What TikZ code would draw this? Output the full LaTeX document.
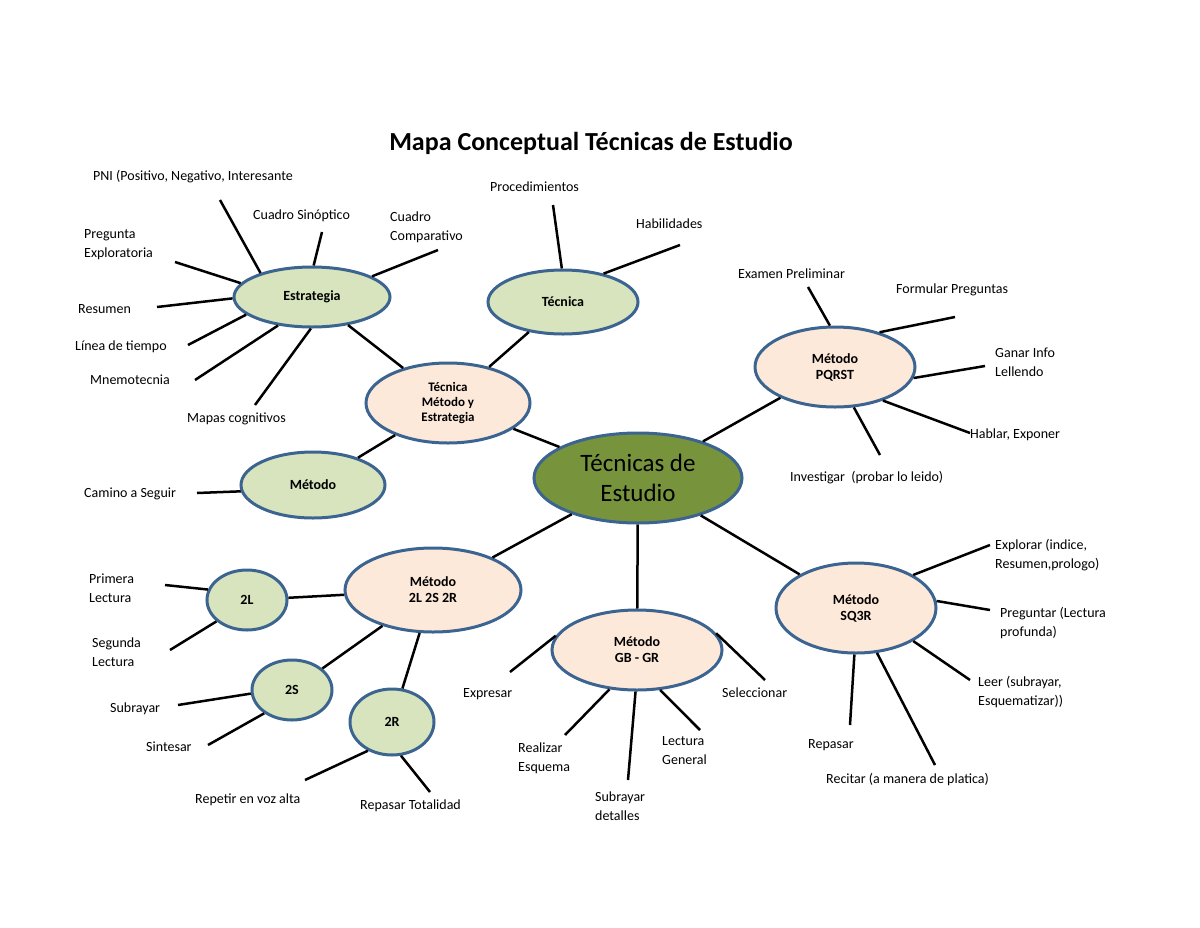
\documentclass[tikz,border=0pt]{standalone}
\usepackage{fontspec}
\setmainfont{Carlito}
\usetikzlibrary{shapes.geometric}
\definecolor{bord}{HTML}{3C6491}
\definecolor{gr}{HTML}{D7E4BD}
\definecolor{pe}{HTML}{FDE9D9}
\definecolor{dk}{HTML}{77933C}
\begin{document}
\begin{tikzpicture}[x=1pt,y=-1pt,
 el/.style={ellipse,draw=bord,line width=3pt,inner sep=0pt,align=center,font=\fontsize{14}{16}\selectfont\bfseries},
 g/.style={el,fill=gr}, p/.style={el,fill=pe},
 lab/.style={anchor=west,align=left,inner sep=0pt,font=\fontsize{14}{19}\selectfont},
 ln/.style={line width=2.5pt}]
\useasboundingbox (0,0) rectangle (1200,927);
\node[font=\fontsize{26}{30}\selectfont\bfseries] (title) at (591,143) {Mapa Conceptual Técnicas de Estudio};
\node[el,fill=dk,minimum width=208pt,minimum height=90pt,font=\fontsize{25}{30}\selectfont] (c) at (638,478) {Técnicas de\\Estudio};
\node[g,minimum width=156pt,minimum height=60pt] (est) at (312,297) {Estrategia};
\node[g,minimum width=150pt,minimum height=64pt] (tec) at (563,302) {Técnica};
\node[p,minimum width=164pt,minimum height=80pt,font=\fontsize{13}{15}\selectfont\bfseries] (tme) at (448,403) {Técnica\\Método y\\Estrategia};
\node[g,minimum width=144pt,minimum height=66pt] (met) at (313,485) {Método};
\node[p,minimum width=160pt,minimum height=80pt] (pq) at (835,367) {Método\\PQRST};
\node[p,minimum width=176pt,minimum height=84pt] (m2) at (433,590) {Método\\2L 2S 2R};
\node[g,minimum width=80pt,minimum height=60pt] (n2l) at (247,600) {2L};
\node[g,minimum width=80pt,minimum height=60pt] (n2s) at (292,690) {2S};
\node[g,minimum width=84pt,minimum height=66pt] (n2r) at (392,722) {2R};
\node[p,minimum width=170pt,minimum height=80pt] (gb) at (637,650) {Método\\GB - GR};
\node[p,minimum width=160pt,minimum height=90pt] (sq) at (856,608) {Método\\SQ3R};
% labels
\node[lab] (a1) at (93,177) {PNI (Positivo, Negativo, Interesante};
\node[lab] (a2) at (253,216) {Cuadro Sinóptico};
\node[lab] (a3) at (390,227) {Cuadro\\Comparativo};
\node[lab] (a4) at (84,245) {Pregunta\\Exploratoria};
\node[lab] (a5) at (78,309) {Resumen};
\node[lab] (a6) at (75,347) {Línea de tiempo};
\node[lab] (a7) at (90,380) {Mnemotecnia};
\node[lab] (a8) at (187,419) {Mapas cognitivos};
\node[lab] (b1) at (490,187) {Procedimientos};
\node[lab] (b2) at (636,224) {Habilidades};
\node[lab] (d1) at (738,274) {Examen Preliminar};
\node[lab] (d2) at (896,290) {Formular Preguntas};
\node[lab] (d3) at (995,362) {Ganar Info\\Lellendo};
\node[lab] (d4) at (970,435) {Hablar, Exponer};
\node[lab] (d5) at (790,478) {Investigar\ \ (probar lo leido)};
\node[lab] (e1) at (84,494) {Camino a Seguir};
\node[lab] (f1) at (995,555) {Explorar (indice,\\Resumen,prologo)};
\node[lab] (f2) at (1000,623) {Preguntar (Lectura\\profunda)};
\node[lab] (f3) at (978,692) {Leer (subrayar,\\Esquematizar))};
\node[lab] (f4) at (808,745) {Repasar};
\node[lab] (f5) at (826,779) {Recitar (a manera de platica)};
\node[lab] (h1) at (89,588) {Primera\\Lectura};
\node[lab] (h2) at (92,652) {Segunda\\Lectura};
\node[lab] (h3) at (110,709) {Subrayar};
\node[lab] (h4) at (146,747) {Sintesar};
\node[lab] (h5) at (195,800) {Repetir en voz alta};
\node[lab] (h6) at (360,806) {Repasar Totalidad};
\node[lab] (k1) at (463,694) {Expresar};
\node[lab] (k2) at (518,758) {Realizar\\Esquema};
\node[lab] (k3) at (662,751) {Lectura\\General};
\node[lab] (k4) at (595,806) {Subrayar\\detalles};
\node[lab] (k5) at (722,693) {Seleccionar};
% free ends
\foreach \n/\x/\y in {p1/220/200,p2/322/232,p3/438/250,p4/175/262,p5/157/307,p6/188/345,p7/195/380,p8/255/405,
 q1/553/205,q2/680/245,z1/808/287,z2/955/317,z3/985/366,z4/970/433,z5/880/455,t1/197/493,
 u1/990/545,u2/990/610,u3/970/680,u4/850/725,u5/935/765,v1/165/585,v2/170/650,v3/178/705,v4/208/745,
 v5/305/780,v6/430/792,w1/510/672,w2/565/735,w3/628/780,w4/700/730,w5/765/680}
 \coordinate (\n) at (\x,\y);
\draw[ln] (est.155)--(p1); \draw[ln] (est.87)--(p2); \draw[ln] (est.19)--(p3);
\draw[ln] (est.169)--(p4); \draw[ln] (est.181)--(p5); \draw[ln] (est.195)--(p6);
\draw[ln] (est.220)--(p7); \draw[ln] (est.268)--(p8);
\draw[ln] (tec.92)--(q1); \draw[ln] (tec.35)--(q2);
\draw[ln] (pq.97)--(z1); \draw[ln] (pq.38)--(z2); \draw[ln] (pq.-8)--(z3); \draw[ln] (pq.-35)--(z4); \draw[ln] (pq.-65)--(z5);
\draw[ln] (met.185)--(t1);
\draw[ln] (sq.30)--(u1); \draw[ln] (sq.5)--(u2); \draw[ln] (sq.-30)--(u3); \draw[ln] (sq.-92)--(u4); \draw[ln] (sq.-65)--(u5);
\draw[ln] (n2l.165)--(v1); \draw[ln] (n2l.215)--(v2); \draw[ln] (n2s.185)--(v3); \draw[ln] (n2s.220)--(v4);
\draw[ln] (n2r.230)--(v5); \draw[ln] (n2r.-75)--(v6);
\draw[ln] (gb.170)--(w1); \draw[ln] (gb.-125)--(w2); \draw[ln] (gb.-92)--(w3); \draw[ln] (gb.-60)--(w4); \draw[ln] (gb.12)--(w5);
\draw[ln] (est)--(tme); \draw[ln] (tec)--(tme); \draw[ln] (tme)--(c); \draw[ln] (met)--(tme);
\draw[ln] (c)--(pq); \draw[ln] (c)--(sq); \draw[ln] (c)--(gb); \draw[ln] (c)--(m2);
\draw[ln] (m2)--(n2l); \draw[ln] (m2)--(n2s); \draw[ln] (m2)--(n2r);
\end{tikzpicture}
\end{document}
